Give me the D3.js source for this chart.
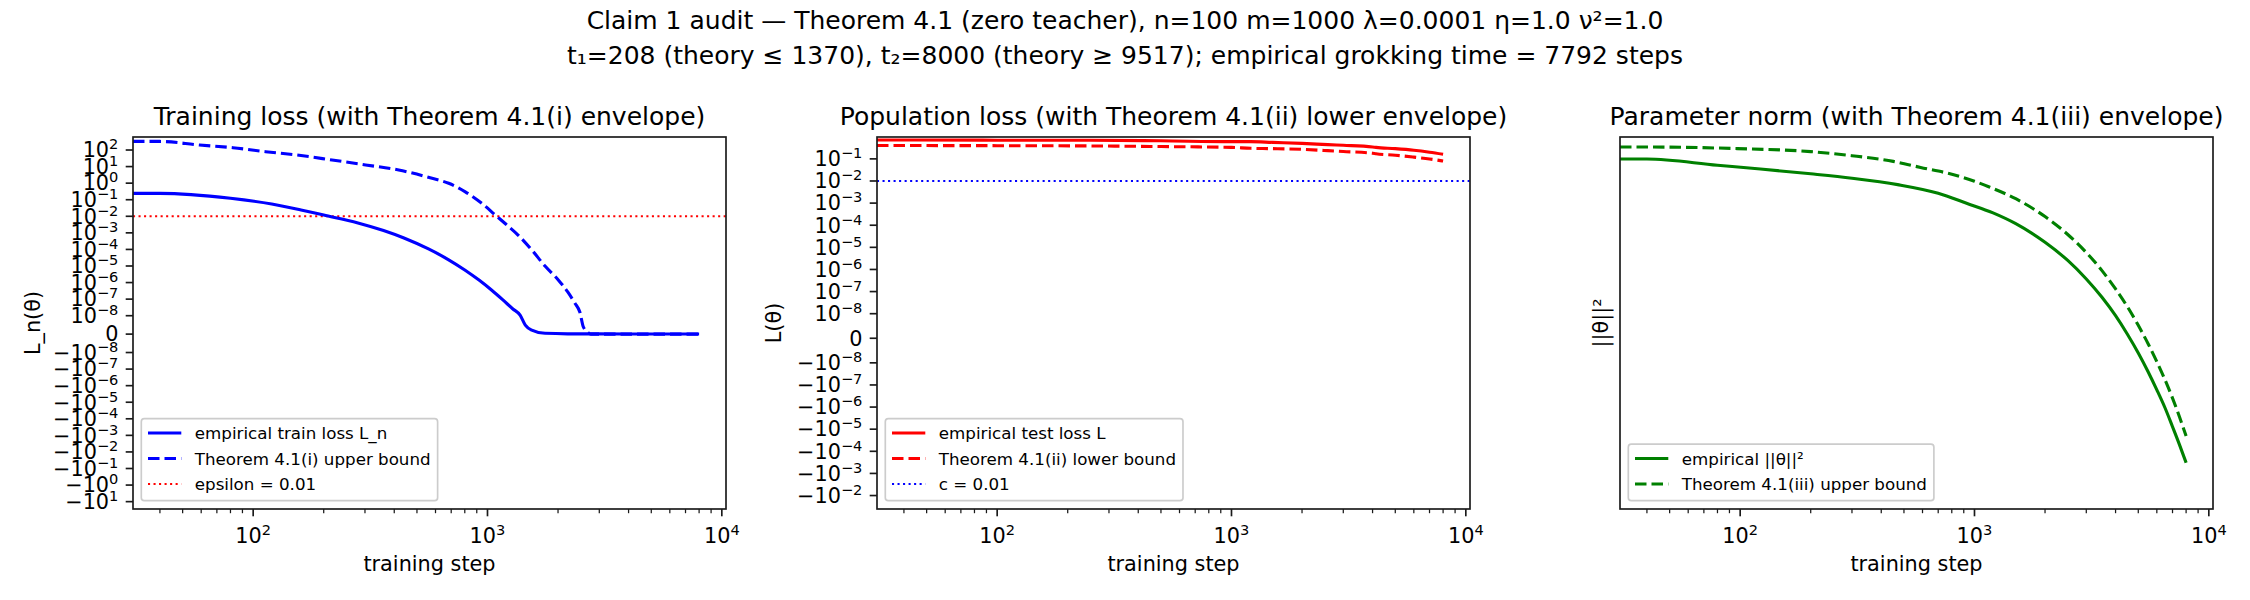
<!DOCTYPE html>
<html>
<head>
<meta charset="utf-8">
<script src="https://cdn.jsdelivr.net/npm/d3@7"></script>
<style>
  body { margin: 0; background: #fff; }
  text { font-family: "DejaVu Sans", sans-serif; fill: #000; }
</style>
</head>
<body>
<svg id="chart" width="2250" height="600"></svg>
<script>
// ---- data ----
const titleLines = [
  'Claim 1 audit \u2014 Theorem 4.1 (zero teacher), n=100 m=1000 \u03bb=0.0001 \u03b7=1.0 \u03bd\u00b2=1.0',
  't\u2081=208 (theory \u2264 1370), t\u2082=8000 (theory \u2265 9517); empirical grokking time = 7792 steps'
]
const panelTitles = [
  'Training loss (with Theorem 4.1(i) envelope)',
  'Population loss (with Theorem 4.1(ii) lower envelope)',
  'Parameter norm (with Theorem 4.1(iii) envelope)'
]
const yLabels = ['L_n(\u03b8)', 'L(\u03b8)', '||\u03b8||\u00b2']
const xLabel = 'training step'

// panel 1: training loss
const trainSteps = [0, 40, 80, 120, 160, 200, 280, 360, 440, 560, 680, 800, 920, 1040, 1160, 1280, 1380, 1450, 1545, 1760, 2200, 4000, 8000]
const trainLoss = [0.243, 0.243, 0.122, 0.055, 0.024, 0.0118, 3.98e-3, 1.38e-3, 4.9e-4, 1.07e-4, 2.45e-5, 5.75e-6, 1.41e-6, 3.55e-7, 9.3e-8, 2.63e-8, 1.05e-8, 4.9e-9, 2.2e-9, 4.3e-10, 1.5e-10, 8e-11, 5e-11]
const trainBoundSteps = [0, 40, 59, 82, 113, 157, 217, 302, 418, 580, 683, 804, 946, 1079, 1200, 1350, 1545, 1760, 2005, 2200, 2362, 2480, 2563, 2692, 2760, 8000]
const trainBound = [330, 330, 200, 138, 79, 48, 25, 12.6, 6.2, 1.95, 0.98, 0.30, 0.060, 0.012, 3.3e-3, 7.4e-4, 9.3e-5, 1.0e-5, 1.45e-6, 2.7e-7, 5.6e-8, 1.6e-8, 4e-9, 7.6e-10, 0, 0]
const epsilon = 0.01
const trainYTicks = [100, 10, 1, 1e-1, 1e-2, 1e-3, 1e-4, 1e-5, 1e-6, 1e-7, 1e-8, 0,
  -1e-8, -1e-7, -1e-6, -1e-5, -1e-4, -1e-3, -1e-2, -1e-1, -1, -10]
const trainYLim = [-27.8, 610]

// panel 2: population loss
const testSteps = [0, 40, 100, 250, 500, 1000, 1208, 1500, 2000, 2576, 3000, 4000, 4140, 5000, 6000, 7000, 8000]
const testLoss = [0.71, 0.71, 0.70, 0.69, 0.655, 0.60, 0.60, 0.555, 0.50, 0.44, 0.41, 0.345, 0.33, 0.29, 0.245, 0.20, 0.162]
const testBound = [0.40, 0.40, 0.395, 0.385, 0.36, 0.33, 0.30, 0.29, 0.27, 0.235, 0.215, 0.18, 0.17, 0.147, 0.12, 0.099, 0.080]
const cLevel = 0.01
const testYTicks = [1e-1, 1e-2, 1e-3, 1e-4, 1e-5, 1e-6, 1e-7, 1e-8, 0,
  -1e-8, -1e-7, -1e-6, -1e-5, -1e-4, -1e-3, -1e-2]
const testYLim = [-0.0406, 0.975]

// panel 3: parameter norm
const normSteps = [0, 40, 80, 122, 200, 300, 470, 700, 925, 1200, 1500, 2000, 2500, 3000, 3500, 4000, 4500, 5000, 5500, 6000, 6500, 7000, 7500, 8000]
const normEmp = [0.869, 0.869, 0.840, 0.823, 0.802, 0.783, 0.756, 0.721, 0.683, 0.648, 0.611, 0.552, 0.500, 0.452, 0.409, 0.370, 0.334, 0.302, 0.273, 0.247, 0.224, 0.202, 0.183, 0.166]
const normBoundSteps = [0, 40, 97, 200, 300, 450, 589, 800, 1000, 1164, 1500, 2000, 2500, 3000, 3500, 4000, 4500, 5000, 5500, 6000, 6500, 7000, 7500, 8000]
const normBound = [0.928, 0.928, 0.920, 0.905, 0.885, 0.858, 0.830, 0.800, 0.770, 0.745, 0.700, 0.635, 0.576, 0.522, 0.473, 0.428, 0.388, 0.351, 0.318, 0.288, 0.261, 0.236, 0.213, 0.192]
const normYLim = [0.129, 0.98]

// x range (log) and tick values
const xLim = [30.7, 10420]
const xMajor = [100, 1000, 10000]
const xMinor = [40, 50, 60, 70, 80, 90, 200, 300, 400, 500, 600, 700, 800, 900,
  2000, 3000, 4000, 5000, 6000, 7000, 8000, 9000]

// ---- layout ----
const axTop = 137, axBottom = 509, axW = 593
const lefts = [133, 877, 1620]
const fsTick = 20.8, fsSup = 14.6, fsTitle = 25, fsLegend = 16.7
const lwLine = 3.1, lwThin = 2.08
const dashed = '11.5,5', dotted = '2.08,3.44'

const svg = d3.select('#chart')

// matplotlib style symlog: linthresh 1e-8, linscale 1, base 10
const linthresh = 1e-8, linscaleAdj = 1 / (1 - 1 / 10)
function symT(v) {
  const a = Math.abs(v)
  if (a <= linthresh) return v / linthresh * linscaleAdj
  return Math.sign(v) * (linscaleAdj + Math.log10(a / linthresh))
}
function symlogY(lim) {
  const lin = d3.scaleLinear().domain([symT(lim[0]), symT(lim[1])]).range([axBottom, axTop])
  return v => lin(symT(v))
}

// super-script power label, e.g. -10^-8
function powLabel(text, v) {
  if (v === 0) { text.text('0'); return }
  const e = Math.round(Math.log10(Math.abs(v)))
  text.append('tspan').text((v < 0 ? '\u2212' : '') + '10')
  text.append('tspan').attr('dy', -8).attr('font-size', fsSup)
    .text(e < 0 ? '\u2212' + (-e) : String(e))
}

// suptitle
svg.selectAll('text.suptitle')
  .data(titleLines)
  .enter().append('text')
  .attr('class', 'suptitle')
  .attr('x', 1125)
  .attr('y', (d, i) => 28.5 + i * 35)
  .attr('text-anchor', 'middle')
  .attr('font-size', fsTitle)
  .text(d => d)

function drawPanel(i, yFn, yTicks, series, hlines, legendItems, ylabX) {
  const left = lefts[i], right = left + axW
  const x0 = d3.scaleLog().domain(xLim).range([left, right])
  const x = v => x0(Math.max(v, xLim[0]))
  const g = svg.append('g')

  const clipId = 'clip' + i
  g.append('clipPath').attr('id', clipId)
    .append('rect').attr('x', left).attr('y', axTop).attr('width', axW).attr('height', axBottom - axTop)
  const plot = g.append('g').attr('clip-path', `url(#${clipId})`)

  // horizontal reference lines
  hlines.forEach(h => {
    plot.append('line')
      .attr('x1', left).attr('x2', right)
      .attr('y1', yFn(h.value)).attr('y2', yFn(h.value))
      .attr('stroke', h.color).attr('stroke-width', lwThin)
      .attr('stroke-dasharray', dotted)
  })

  // curves
  series.forEach(s => {
    const line = d3.line()
      .x((d, k) => x(s.steps[k]))
      .y(d => yFn(d))
      .curve(d3.curveMonotoneX)
    plot.append('path')
      .attr('d', line(s.values))
      .attr('fill', 'none')
      .attr('stroke', s.color)
      .attr('stroke-width', lwLine)
      .attr('stroke-dasharray', s.dash || null)
  })

  // spines
  g.append('rect')
    .attr('x', left).attr('y', axTop).attr('width', axW).attr('height', axBottom - axTop)
    .attr('fill', 'none').attr('stroke', '#1a1a1a').attr('stroke-width', 1.67)

  // x ticks
  g.selectAll('line.xmaj').data(xMajor).enter().append('line')
    .attr('x1', d => x(d)).attr('x2', d => x(d))
    .attr('y1', axBottom).attr('y2', axBottom + 7.3)
    .attr('stroke', '#1a1a1a').attr('stroke-width', 1.67)
  g.selectAll('line.xmin').data(xMinor).enter().append('line')
    .attr('x1', d => x(d)).attr('x2', d => x(d))
    .attr('y1', axBottom).attr('y2', axBottom + 4.2)
    .attr('stroke', '#1a1a1a').attr('stroke-width', 1.25)
  g.selectAll('text.xtick').data(xMajor).enter().append('text')
    .attr('x', d => x(d)).attr('y', 543)
    .attr('text-anchor', 'middle').attr('font-size', fsTick)
    .each(function (d) { powLabel(d3.select(this), d) })
  g.append('text')
    .attr('x', left + axW / 2).attr('y', 571)
    .attr('text-anchor', 'middle').attr('font-size', fsTick)
    .text(xLabel)

  // y ticks
  g.selectAll('line.ytick').data(yTicks).enter().append('line')
    .attr('x1', left - 7.3).attr('x2', left)
    .attr('y1', d => yFn(d)).attr('y2', d => yFn(d))
    .attr('stroke', '#1a1a1a').attr('stroke-width', 1.67)
  g.selectAll('text.ytick').data(yTicks).enter().append('text')
    .attr('x', left - 14.6).attr('y', d => yFn(d) + 7.3)
    .attr('text-anchor', 'end').attr('font-size', fsTick)
    .each(function (d) { powLabel(d3.select(this), d) })

  // y label
  g.append('text')
    .attr('transform', `translate(${ylabX},${(axTop + axBottom) / 2}) rotate(-90)`)
    .attr('text-anchor', 'middle').attr('font-size', fsTick)
    .text(yLabels[i])

  // title
  g.append('text')
    .attr('x', left + axW / 2).attr('y', 125)
    .attr('text-anchor', 'middle').attr('font-size', fsTitle)
    .text(panelTitles[i])

  // legend (lower left)
  const rowH = 25.5
  const bx = left + 8.3, bBottom = axBottom - 8.3
  const bTop = bBottom - 16.7 - (legendItems.length - 1) * rowH - 14.3
  const lg = g.append('g')
  const box = lg.append('rect')
    .attr('x', bx).attr('y', bTop).attr('height', bBottom - bTop)
    .attr('rx', 3).attr('fill', '#fff').attr('fill-opacity', 0.8)
    .attr('stroke', '#cccccc').attr('stroke-width', 1.67)
  let maxW = 0
  legendItems.forEach((it, k) => {
    const cy = bTop + 14.3 + k * rowH
    lg.append('line')
      .attr('x1', bx + 6.7).attr('x2', bx + 40)
      .attr('y1', cy).attr('y2', cy)
      .attr('stroke', it.color)
      .attr('stroke-width', it.thin ? lwThin : lwLine)
      .attr('stroke-dasharray', it.dash || null)
    const t = lg.append('text')
      .attr('x', bx + 53.5).attr('y', cy + 6)
      .attr('font-size', fsLegend)
      .text(it.label)
    maxW = Math.max(maxW, t.node().getComputedTextLength())
  })
  box.attr('width', 53.5 + maxW + 7)
}

// panel 1
drawPanel(0, symlogY(trainYLim), trainYTicks,
  [
    { steps: trainSteps, values: trainLoss, color: '#0000ff' },
    { steps: trainBoundSteps, values: trainBound, color: '#0000ff', dash: dashed }
  ],
  [{ value: epsilon, color: '#ff0000' }],
  [
    { label: 'empirical train loss L_n', color: '#0000ff' },
    { label: 'Theorem 4.1(i) upper bound', color: '#0000ff', dash: dashed },
    { label: 'epsilon = 0.01', color: '#ff0000', dash: dotted, thin: true }
  ], 40)

// panel 2
drawPanel(1, symlogY(testYLim), testYTicks,
  [
    { steps: testSteps, values: testLoss, color: '#ff0000' },
    { steps: testSteps, values: testBound, color: '#ff0000', dash: dashed }
  ],
  [{ value: cLevel, color: '#0000ff' }],
  [
    { label: 'empirical test loss L', color: '#ff0000' },
    { label: 'Theorem 4.1(ii) lower bound', color: '#ff0000', dash: dashed },
    { label: 'c = 0.01', color: '#0000ff', dash: dotted, thin: true }
  ], 781)

// panel 3 (log y, no tick labels inside a single decade)
const yNorm = d3.scaleLog().domain(normYLim).range([axBottom, axTop])
drawPanel(2, yNorm, [],
  [
    { steps: normSteps, values: normEmp, color: '#008000' },
    { steps: normBoundSteps, values: normBound, color: '#008000', dash: dashed }
  ],
  [],
  [
    { label: 'empirical ||\u03b8||\u00b2', color: '#008000' },
    { label: 'Theorem 4.1(iii) upper bound', color: '#008000', dash: dashed }
  ], 1608)
</script>
</body>
</html>
